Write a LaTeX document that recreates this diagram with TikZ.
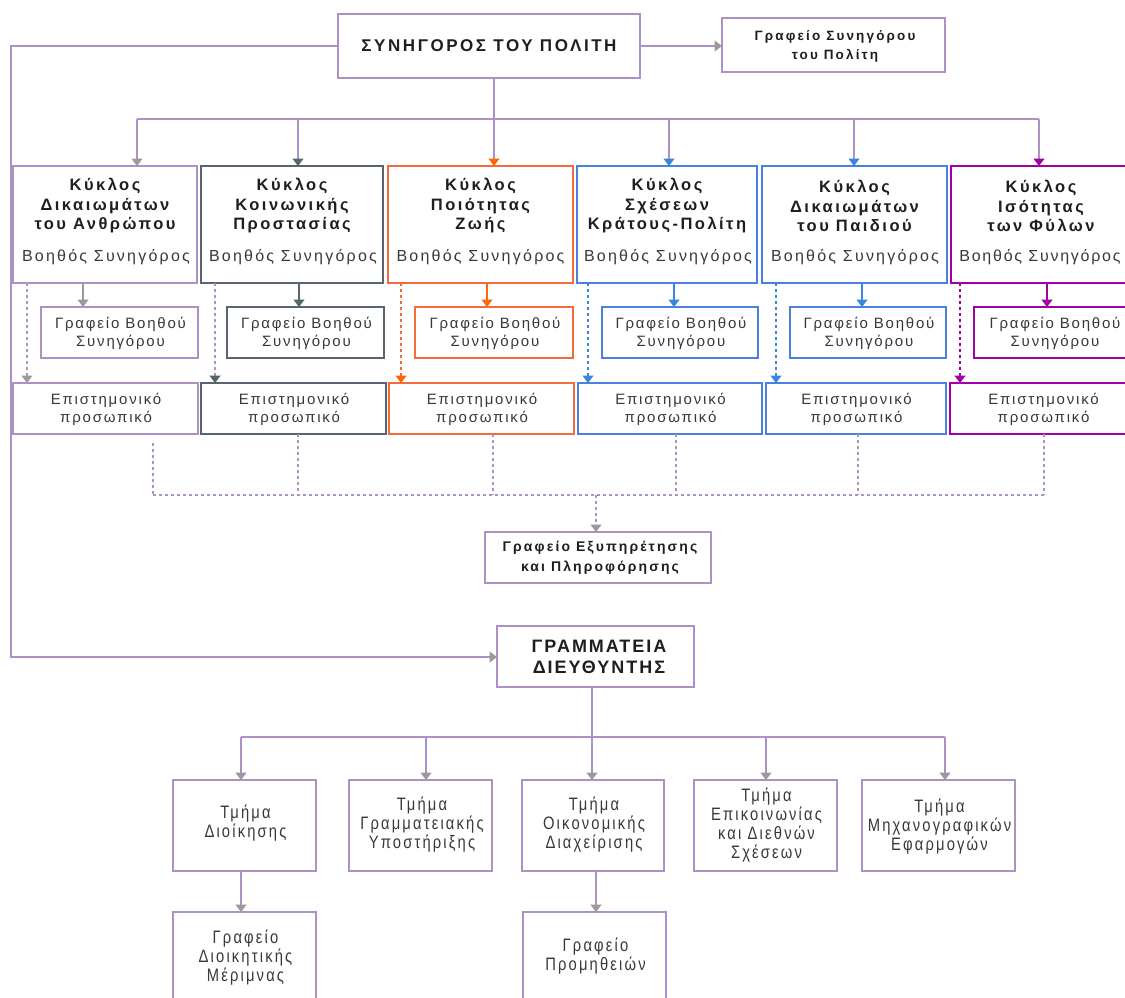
\documentclass[tikz,border=0pt]{standalone}
\usepackage{fontspec}
\setmainfont{Liberation Sans}
\newfontfamily\trk{Liberation Sans}
\newfontfamily\nar[FakeStretch=0.82,LetterSpace=12]{Liberation Sans}
\newcommand\trkls[1]{\trk\addfontfeatures{LetterSpace=#1}}
\usetikzlibrary{arrows.meta,fit}
\definecolor{lav}{HTML}{AD91C4}
\definecolor{grt}{HTML}{9A9A9A}
\definecolor{slate}{HTML}{5A6470}
\definecolor{slatet}{HTML}{4E6A62}
\definecolor{orng}{HTML}{F36A3C}
\definecolor{orngt}{HTML}{FF6600}
\definecolor{blu}{HTML}{4A80E0}
\definecolor{blut}{HTML}{3A86D8}
\definecolor{pur}{HTML}{A000A6}
\definecolor{tx}{HTML}{383838}
\definecolor{txd}{HTML}{1E1E1E}
\tikzset{
  bxs/.style={draw=#1, line width=1.5pt, inner sep=0pt, outer sep=0pt},
  ln/.style={draw=#1, line width=1.5pt},
  dl/.style={draw=#1, line width=1.5pt, dash pattern=on 2.5pt off 3.5pt},
  tp/.style={-{Triangle[length=7.5pt,width=11pt,color=#1]}},
  ttl/.style={align=center, inner sep=0pt, text=txd, font=\trkls{15}\bfseries\fontsize{16.5}{19.5}\selectfont},
  ast/.style={align=center, inner sep=0pt, text=tx, font=\trkls{14}\fontsize{16}{19}\selectfont},
  sml/.style={align=center, inner sep=0pt, text=tx, font=\trkls{12}\fontsize{15}{18}\selectfont},
  dep/.style={align=center, inner sep=0pt, text=tx, font=\nar\fontsize{18}{19}\selectfont},
}
\begin{document}
\begin{tikzpicture}[x=1pt,y=-1pt]
\useasboundingbox (0,0) rectangle (1125,997);
% top
\node[bxs=lav, fit={(338,14) (640,78)}] (m) {};
\node[ttl, font=\trkls{15}\bfseries\fontsize{17}{18}\selectfont] (mt) at (489,46) {ΣΥΝΗΓΟΡΟΣ ΤΟΥ ΠΟΛΙΤΗ};
\node[bxs=lav, fit={(722,18) (945,72)}] (gs) {};
\node[ttl, font=\trkls{16}\bfseries\fontsize{13.5}{19.5}\selectfont] (gst) at (835,46.5) {Γραφείο Συνηγόρου\\του Πολίτη};
\draw[ln=lav, tp=grt] (m.east) -- (m.east -| gs.west);
% circles
\node[bxs=lav,   fit={(13,166) (197,283)}] (c1) {};
\node[bxs=slate, fit={(201,166) (383,283)}] (c2) {};
\node[bxs=orng,  fit={(388,166) (573,283)}] (c3) {};
\node[bxs=blu,   fit={(577,166) (757,283)}] (c4) {};
\node[bxs=blu,   fit={(762,166) (947,283)}] (c5) {};
\node[bxs=pur,   fit={(951,166) (1132,283)}] (c6) {};
\node[ttl] (t1) at (105,206) {Κύκλος\\Δικαιωμάτων\\του Ανθρώπου};
\node[ttl] (t2) at (292,206) {Κύκλος\\Κοινωνικής\\Προστασίας};
\node[ttl] (t3) at (480.5,206) {Κύκλος\\Ποιότητας\\Ζωής};
\node[ttl] (t4) at (667,206) {Κύκλος\\Σχέσεων\\Κράτους-Πολίτη};
\node[ttl] (t5) at (854.5,206) {Κύκλος\\Δικαιωμάτων\\του Παιδιού};
\node[ttl] (t6) at (1041,206) {Κύκλος\\Ισότητας\\των Φύλων};
\node[ast] (a1) at (106,257) {Βοηθός Συνηγόρος};
\node[ast] (a2) at (293,257) {Βοηθός Συνηγόρος};
\node[ast] (a3) at (480.5,257) {Βοηθός Συνηγόρος};
\node[ast] (a4) at (668,257) {Βοηθός Συνηγόρος};
\node[ast] (a5) at (855,257) {Βοηθός Συνηγόρος};
\node[ast, font=\trkls{11}\fontsize{16}{19}\selectfont] (a6) at (1040,257) {Βοηθός Συνηγόρος};
% bus to circles
\coordinate (b1) at (137,119);
\coordinate (b2) at (298,119);
\coordinate (b3) at (494,119);
\coordinate (b4) at (669,119);
\coordinate (b5) at (854,119);
\coordinate (b6) at (1039,119);
\draw[ln=lav] (m.south -| b3) -- (b3);
\draw[ln=lav] (b1) -- (b6);
\draw[ln=lav, tp=grt]   (b1) -- (b1 |- c1.north);
\draw[ln=lav, tp=slatet] (b2) -- (b2 |- c2.north);
\draw[ln=lav, tp=orngt] (b3) -- (b3 |- c3.north);
\draw[ln=lav, tp=blut]  (b4) -- (b4 |- c4.north);
\draw[ln=lav, tp=blut]  (b5) -- (b5 |- c5.north);
\draw[ln=lav, tp=pur]   (b6) -- (b6 |- c6.north);
% assistant offices
\node[bxs=lav,   fit={(41,307) (198,358)}] (g1) {};
\node[bxs=slate, fit={(227,307) (384,358)}] (g2) {};
\node[bxs=orng,  fit={(415,307) (573,358)}] (g3) {};
\node[bxs=blu,   fit={(602,307) (758,358)}] (g4) {};
\node[bxs=blu,   fit={(790,307) (946,358)}] (g5) {};
\node[bxs=pur,   fit={(974,307) (1132,358)}] (g6) {};
\node[sml] (gt1) at (120.5,333.5) {Γραφείο Βοηθού\\Συνηγόρου};
\node[sml] (gt2) at (306.5,333.5) {Γραφείο Βοηθού\\Συνηγόρου};
\node[sml] (gt3) at (495,333.5) {Γραφείο Βοηθού\\Συνηγόρου};
\node[sml] (gt4) at (681,333.5) {Γραφείο Βοηθού\\Συνηγόρου};
\node[sml] (gt5) at (869,333.5) {Γραφείο Βοηθού\\Συνηγόρου};
\node[sml] (gt6) at (1055,333.5) {Γραφείο Βοηθού\\Συνηγόρου};
\coordinate (s1) at (83,0);
\coordinate (s2) at (299,0);
\coordinate (s3) at (487,0);
\coordinate (s4) at (674,0);
\coordinate (s5) at (862,0);
\coordinate (s6) at (1047,0);
\draw[ln=grt, tp=grt]     (c1.south -| s1) -- (g1.north -| s1);
\draw[ln=slate, tp=slatet] (c2.south -| s2) -- (g2.north -| s2);
\draw[ln=orngt, tp=orngt] (c3.south -| s3) -- (g3.north -| s3);
\draw[ln=blut, tp=blut]   (c4.south -| s4) -- (g4.north -| s4);
\draw[ln=blut, tp=blut]   (c5.south -| s5) -- (g5.north -| s5);
\draw[ln=pur, tp=pur]     (c6.south -| s6) -- (g6.north -| s6);
% scientific staff
\node[bxs=lav,   fit={(13,383) (198,434)}] (e1) {};
\node[bxs=slate, fit={(201,383) (386,434)}] (e2) {};
\node[bxs=orng,  fit={(389,383) (574,434)}] (e3) {};
\node[bxs=blu,   fit={(578,383) (762,434)}] (e4) {};
\node[bxs=blu,   fit={(766,383) (946,434)}] (e5) {};
\node[bxs=pur,   fit={(950,383) (1132,434)}] (e6) {};
\node[sml] (et1) at (106,409) {Επιστημονικό\\προσωπικό};
\node[sml] (et2) at (294,409) {Επιστημονικό\\προσωπικό};
\node[sml] (et3) at (482,409) {Επιστημονικό\\προσωπικό};
\node[sml] (et4) at (670.5,409) {Επιστημονικό\\προσωπικό};
\node[sml] (et5) at (856.5,409) {Επιστημονικό\\προσωπικό};
\node[sml] (et6) at (1043.5,409) {Επιστημονικό\\προσωπικό};
\coordinate (d1) at (27,0);
\coordinate (d2) at (215,0);
\coordinate (d3) at (401,0);
\coordinate (d4) at (588,0);
\coordinate (d5) at (776,0);
\coordinate (d6) at (960,0);
\draw[dl=lav, tp=grt]      (c1.south -| d1) -- (e1.north -| d1);
\draw[dl=lav, tp=slatet]   (c2.south -| d2) -- (e2.north -| d2);
\draw[dl=orng, tp=orngt]   (c3.south -| d3) -- (e3.north -| d3);
\draw[dl=blut, tp=blut]    (c4.south -| d4) -- (e4.north -| d4);
\draw[dl=blut, tp=blut]    (c5.south -| d5) -- (e5.north -| d5);
\draw[dl=pur, tp=pur]      (c6.south -| d6) -- (e6.north -| d6);
% dotted bus to service office
\coordinate (q1) at (153,495);
\coordinate (q2) at (298,495);
\coordinate (q3) at (493,495);
\coordinate (q4) at (676,495);
\coordinate (q5) at (858,495);
\coordinate (q6) at (1044,495);
\coordinate (qm) at (596,495);
\draw[dl=lav] (153,443) -- (q1);
\draw[dl=lav] (e2.south -| q2) -- (q2);
\draw[dl=lav] (e3.south -| q3) -- (q3);
\draw[dl=lav] (e4.south -| q4) -- (q4);
\draw[dl=lav] (e5.south -| q5) -- (q5);
\draw[dl=lav] (e6.south -| q6) -- (q6);
\draw[dl=lav] (q1) -- (q6);
\node[bxs=lav, fit={(485,532) (711,583)}] (ge) {};
\node[ttl, font=\trkls{15}\bfseries\fontsize{14}{20}\selectfont] (get) at (600,558) {Γραφείο Εξυπηρέτησης\\και Πληροφόρησης};
\draw[dl=lav, tp=grt] (qm) -- (qm |- ge.north);
% secretariat
\node[bxs=lav, fit={(497,626) (694,687)}] (gr) {};
\node[ttl, font=\trkls{11}\bfseries\fontsize{18}{21}\selectfont] (grt) at (599,657) {ΓΡΑΜΜΑΤΕΙΑ\\ΔΙΕΥΘΥΝΤΗΣ};
\coordinate (lc) at (11,657);
\draw[ln=lav, tp=grt] (m.west) -| (lc) -- (lc -| gr.west);
% departments
\node[bxs=lav, fit={(173,780) (316,871)}] (p1) {};
\node[bxs=lav, fit={(349,780) (492,871)}] (p2) {};
\node[bxs=lav, fit={(522,780) (664,871)}] (p3) {};
\node[bxs=lav, fit={(694,780) (837,871)}] (p4) {};
\node[bxs=lav, fit={(862,780) (1015,871)}] (p5) {};
\node[bxs=lav, fit={(173,912) (316,1002)}] (r1) {};
\node[bxs=lav, fit={(523,912) (666,1002)}] (r2) {};
\node[dep] (pt1) at (245.5,823) {Τμήμα\\Διοίκησης};
\node[dep] (pt2) at (422,825) {Τμήμα\\Γραμματειακής\\Υποστήριξης};
\node[dep] (pt3) at (594,825) {Τμήμα\\Οικονομικής\\Διαχείρισης};
\node[dep] (pt4) at (766.5,825) {Τμήμα\\Επικοινωνίας\\και Διεθνών\\Σχέσεων};
\node[dep] (pt5) at (939.5,827) {Τμήμα\\Μηχανογραφικών\\Εφαρμογών};
\node[dep] (rt1) at (245.5,958) {Γραφείο\\Διοικητικής\\Μέριμνας};
\node[dep] (rt2) at (595.5,956) {Γραφείο\\Προμηθειών};
\coordinate (k1) at (241,737);
\coordinate (k2) at (426,737);
\coordinate (k3) at (592,737);
\coordinate (k4) at (766,737);
\coordinate (k5) at (945,737);
\draw[ln=lav] (gr.south -| k3) -- (k3);
\draw[ln=lav] (k1) -- (k5);
\draw[ln=lav, tp=grt] (k1) -- (k1 |- p1.north);
\draw[ln=lav, tp=grt] (k2) -- (k2 |- p2.north);
\draw[ln=lav, tp=grt] (k3) -- (k3 |- p3.north);
\draw[ln=lav, tp=grt] (k4) -- (k4 |- p4.north);
\draw[ln=lav, tp=grt] (k5) -- (k5 |- p5.north);
\coordinate (u1) at (241,0);
\coordinate (u2) at (596,0);
\draw[ln=lav, tp=grt] (p1.south -| u1) -- (r1.north -| u1);
\draw[ln=lav, tp=grt] (p3.south -| u2) -- (r2.north -| u2);
\end{tikzpicture}
\end{document}
